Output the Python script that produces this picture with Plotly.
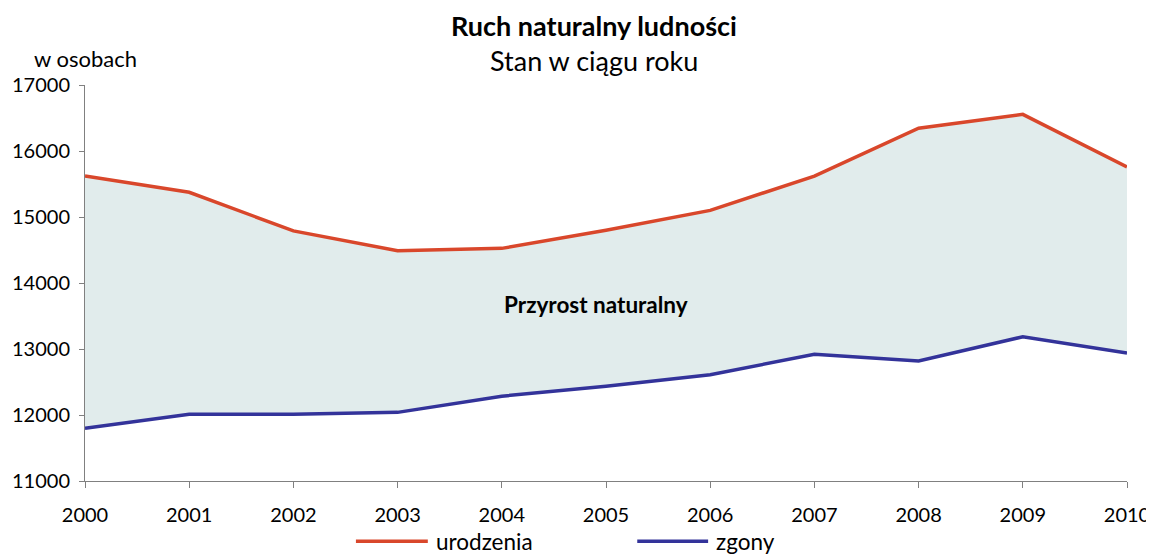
import plotly.graph_objects as go

years = list(range(2000, 2011))
urodzenia = [15620, 15375, 14790, 14490, 14525, 14800, 15100, 15620, 16345, 16555, 15760]
zgony = [11800, 12010, 12010, 12040, 12285, 12435, 12610, 12920, 12820, 13185, 12940]
series_names = ["urodzenia", "zgony"]

FONT = "Lato, 'Open Sans', sans-serif"
RED = "#D9472B"
BLUE = "#33339A"
FILL = "#E1ECEC"

fig = go.Figure()
# area between the series
fig.add_trace(go.Scatter(x=years, y=zgony, mode="lines", line=dict(width=0),
                         showlegend=False, hoverinfo="skip"))
fig.add_trace(go.Scatter(x=years, y=urodzenia, mode="lines", line=dict(width=0),
                         fill="tonexty", fillcolor=FILL, showlegend=False,
                         hoverinfo="skip"))
# visible lines
fig.add_trace(go.Scatter(x=years, y=urodzenia, mode="lines", name=series_names[0],
                         line=dict(color=RED, width=3.5), showlegend=False))
fig.add_trace(go.Scatter(x=years, y=zgony, mode="lines", name=series_names[1],
                         line=dict(color=BLUE, width=3.5), showlegend=False))

# legend drawn as layout decoration (swatch lines + labels) below the plot
leg_y = -0.152
legend_items = [(series_names[0], RED, 0.260, 0.329, 0.338),
                (series_names[1], BLUE, 0.530, 0.598, 0.6065)]
shapes = []
annotations = []
for name, color, x0, x1, xt in legend_items:
    shapes.append(dict(type="line", xref="paper", yref="paper", x0=x0, x1=x1,
                       y0=leg_y, y1=leg_y, line=dict(color=color, width=3.5)))
    annotations.append(dict(text=name, xref="paper", yref="paper", x=xt, y=leg_y,
                            xanchor="left", yanchor="middle", showarrow=False,
                            font=dict(size=22.5), xshift=-3))

annotations += [
    dict(text="<b>Ruch naturalny ludności</b>", xref="paper", yref="paper",
         x=0.4885, y=1.0, yshift=60, showarrow=False, font=dict(size=27),
         xanchor="center", yanchor="middle"),
    dict(text="Stan w ciągu roku", xref="paper", yref="paper",
         x=0.4885, y=1.0, yshift=25, showarrow=False, font=dict(size=27),
         xanchor="center", yanchor="middle"),
    dict(text="w osobach", xref="paper", yref="paper", x=0, xshift=-53,
         y=1.0, yshift=27, showarrow=False, font=dict(size=22),
         xanchor="left", yanchor="middle"),
    dict(text="<b>Przyrost naturalny</b>", x=2004.9, y=13680, showarrow=False,
         font=dict(size=22.5), xanchor="center", yanchor="middle"),
]

fig.update_layout(
    width=1146, height=547,
    margin=dict(l=77, r=27, t=77, b=74),
    paper_bgcolor="white", plot_bgcolor="white",
    font=dict(family=FONT, size=20, color="black"),
    showlegend=False,
    xaxis=dict(range=[2000, 2010], dtick=1, tickmode="linear", showgrid=False,
               zeroline=False, showline=True, linecolor="#808080", linewidth=1,
               ticks="outside", ticklen=6, tickcolor="#808080",
               tickfont=dict(size=20), ticklabelstandoff=10,
               fixedrange=True, automargin=False),
    yaxis=dict(range=[11000, 17000], dtick=1000, tickformat="d", showgrid=False,
               zeroline=False, showline=True, linecolor="#808080", linewidth=1,
               ticks="outside", ticklen=5, tickcolor="#808080",
               tickfont=dict(size=20), ticklabelstandoff=5, automargin=False),
    shapes=shapes,
    annotations=annotations,
)

fig.write_html("out.html")
